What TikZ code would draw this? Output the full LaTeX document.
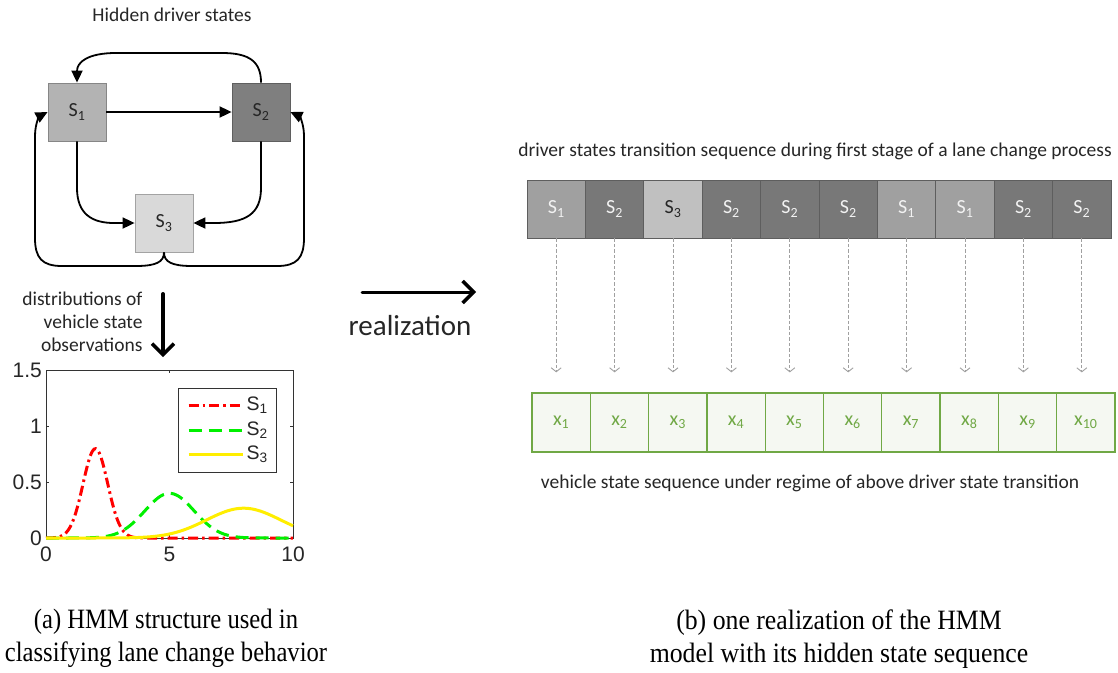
\documentclass[tikz,border=0pt]{standalone}
\usepackage{fontspec}
\usepackage{graphicx}
\setmainfont{Carlito}
\newfontfamily\plotfont{Liberation Sans}
\newfontfamily\capfont{Liberation Serif}
\usetikzlibrary{arrows.meta,calc}

\definecolor{hsone}{HTML}{B3B3B3}
\definecolor{hstwo}{HTML}{7F7F7F}
\definecolor{hsthree}{HTML}{D9D9D9}
\definecolor{sqone}{HTML}{A0A0A0}
\definecolor{sqtwo}{HTML}{787878}
\definecolor{sqthree}{HTML}{C0C0C0}
\definecolor{sqedge}{HTML}{5E5E5E}
\definecolor{obsgreen}{HTML}{70A845}
\definecolor{obsfill}{HTML}{F5F8F2}
\definecolor{inkc}{HTML}{262626}
\definecolor{axisc}{HTML}{333333}
\definecolor{plotred}{HTML}{FF0000}
\definecolor{plotgreen}{HTML}{00F000}
\definecolor{plotyellow}{HTML}{FFEE00}
\definecolor{emitc}{HTML}{A0A0A0}

\tikzset{
  txt/.style={font=\fontsize{19.5}{23}\selectfont, text=inkc},
  hbox/.style={draw=#1!75!black, fill=#1, line width=0.8pt, minimum width=58pt,
    minimum height=58pt, inner sep=0pt, text=inkc, font=\fontsize{20}{24}\selectfont},
  trans/.style={line width=1.8pt, draw=black, -{Triangle[length=12pt,width=11pt]}},
  seqbox/.style={draw=sqedge, fill=#1, line width=0.8pt, minimum width=58.4pt,
    minimum height=58pt, inner sep=0pt, text=white!95!black, font=\fontsize{20}{24}\selectfont},
  obsbox/.style={draw=obsgreen, fill=obsfill, line width=1.3pt, minimum width=58.3pt,
    minimum height=59pt, inner sep=0pt, text=obsgreen, font=\fontsize{20}{24}\selectfont},
  emit/.style={draw=emitc, line width=0.9pt, dash pattern=on 3.5pt off 2pt,
    -{Straight Barb[length=4pt,width=10pt,line width=0.9pt]}},
  bigarrow/.style={line width=3.5pt, draw=black, line cap=round,
    -{Straight Barb[length=11pt,width=22pt,line width=3.5pt]}},
  ticklbl/.style={font=\plotfont\fontsize{21}{24}\selectfont, text=inkc, inner sep=1pt},
  leglbl/.style={font=\plotfont\fontsize{19.5}{22}\selectfont, text=inkc, inner sep=0pt},
  caption/.style={font=\capfont\fontsize{28}{33}\selectfont, align=center, text=black},
  redcurve/.style={plotred, line width=3pt, dash pattern=on 10pt off 4pt on 2.5pt off 4pt},
  greencurve/.style={plotgreen, line width=3pt, dash pattern=on 13pt off 7pt},
  yellowcurve/.style={plotyellow, line width=3pt},
}

\begin{document}
\begin{tikzpicture}[x=1pt,y=-1pt]
\useasboundingbox[fill=white] (0,0) rectangle (1118,672);

% ---------- hidden driver states ----------
\node[txt] (title) at (172,15) {Hidden driver states};
\node[hbox=hsone]   (s1) at (77,112)  {S\textsubscript{1}};
\node[hbox=hstwo]   (s2) at (261,112) {S\textsubscript{2}};
\node[hbox=hsthree] (s3) at (164,223) {S\textsubscript{3}};

\draw[trans] (s1.east) -- (s2.west);
\draw[trans] (s2.north) .. controls (261,62) and (250,53) .. (222,53)
  -- (116,53) .. controls (88,53) and (77,62) .. (s1.north);
\draw[trans] (s1.south) -- (77,188) .. controls (77,214) and (92,223) .. (114,223) -- (s3.west);
\draw[trans] (s2.south) -- (261,188) .. controls (261,214) and (246,223) .. (214,223) -- (s3.east);
\draw[trans] (s3.south) .. controls (164,262) and (156,266) .. (136,266)
  -- (62,266) .. controls (42,266) and (35,258) .. (35,238)
  -- (35,136) .. controls (35,123) and (40,116) .. (s1.west);
\draw[trans] (s3.south) .. controls (164,262) and (172,266) .. (192,266)
  -- (277,266) .. controls (297,266) and (304,258) .. (304,238)
  -- (304,136) .. controls (304,123) and (299,116) .. (s2.east);

% ---------- emission arrow and label ----------
\node[txt, align=right, anchor=east] (obs) at (146,322)
  {distributions of\\vehicle state\\observations};
\coordinate (dtop) at (163,294);
\coordinate (dbot) at (163,357);
\draw[bigarrow, line width=4pt] (dtop) -- (dbot);

% ---------- observation densities ----------
\begin{scope}[shift={(46pt,-538pt)}, x=24.7pt, y=112pt]
  \draw[axisc, line width=1pt] (0,0) rectangle (10,1.5);
  \foreach \v in {0.5,1} {
    \draw[axisc, line width=1pt] (0,\v) -- ++(3pt,0);
    \draw[axisc, line width=1pt] (10,\v) -- ++(-3pt,0);
  }
  \draw[axisc, line width=1pt] (5,0) -- ++(0,3pt);
  \draw[axisc, line width=1pt] (5,1.5) -- ++(0,-3pt);
  \draw[redcurve]
    plot[domain=0:10, samples=150, smooth] (\x,{0.7979*exp(-2*(\x-2)*(\x-2))});
  \draw[greencurve]
    plot[domain=0:10, samples=150, smooth] (\x,{0.3989*exp(-0.5*(\x-5)*(\x-5))});
  \draw[yellowcurve]
    plot[domain=0:10, samples=150, smooth] (\x,{0.266*exp(-(\x-8)*(\x-8)/4.5)});
  \foreach \v/\l in {0/0,0.5/0.5,1/1,1.5/1.5}
    \node[ticklbl, anchor=east] (yl\l) at ([xshift=-3pt]0,\v) {\l};
  \foreach \v in {0,5,10}
    \node[ticklbl, anchor=north] (xl\v) at ([yshift=-8pt]\v,0) {\v};
\end{scope}

% legend
\node[draw=axisc, fill=white, line width=1pt, minimum width=98pt, minimum height=84pt,
  inner sep=0pt] (legend) at (227,430) {};
\draw[redcurve] ($(legend.west)+(11,-25)$) -- ++(54,0);
\draw[greencurve] ($(legend.west)+(11,0)$) -- ++(54,0);
\draw[yellowcurve] ($(legend.west)+(11,24)$) -- ++(54,0);
\node[leglbl, anchor=west] (lg1) at ($(legend.west)+(69,-25)$) {S\textsubscript{1}};
\node[leglbl, anchor=west] (lg2) at ($(legend.west)+(69,0)$) {S\textsubscript{2}};
\node[leglbl, anchor=west] (lg3) at ($(legend.west)+(69,24)$) {S\textsubscript{3}};

% ---------- realization arrow ----------
\coordinate (ra) at (362,292);
\coordinate (rb) at (476,292);
\draw[bigarrow, line width=3pt] (ra) -- (rb);
\node[font=\fontsize{29}{34}\selectfont, text=inkc] (real) at (410,326) {realization};

% ---------- state sequence ----------
\node[txt] (seqtitle) at (815,151)
  {driver states transition sequence during first stage of a lane change process};
\foreach \s [count=\i] in {1,2,3,2,2,2,1,1,2,2} {
  \ifnum\s=1 \def\fc{sqone}\fi
  \ifnum\s=2 \def\fc{sqtwo}\fi
  \ifnum\s=3 \def\fc{sqthree}\fi
  \node[seqbox=\fc] (t\i) at ({527+58.4*(\i-0.5)},209) {S\textsubscript{\s}};
}
\node[seqbox=sqthree, text=inkc] (t3) at ({527+58.4*2.5},209) {S\textsubscript{3}};

% ---------- observation sequence ----------
\foreach \i in {1,...,10}
  \node[obsbox] (x\i) at ({532+58.3*(\i-0.5)},422.5) {x\textsubscript{\i}};
\foreach \i in {1,...,10}
  \draw[emit, shorten >=20pt] (t\i.south) -- (t\i.south |- x\i.north);

\node[txt] (obstitle) at (810,483)
  {vehicle state sequence under regime of above driver state transition};

% ---------- captions ----------
\node[caption] (capa) at (166,638)
  {\scalebox{0.88}[1]{(a) HMM structure used in}\\\scalebox{0.88}[1]{classifying lane change behavior}};
\node[caption] (capb) at (839,639)
  {\scalebox{0.92}[1]{(b) one realization of the HMM}\\\scalebox{0.92}[1]{model with its hidden state sequence}};
\end{tikzpicture}
\end{document}
